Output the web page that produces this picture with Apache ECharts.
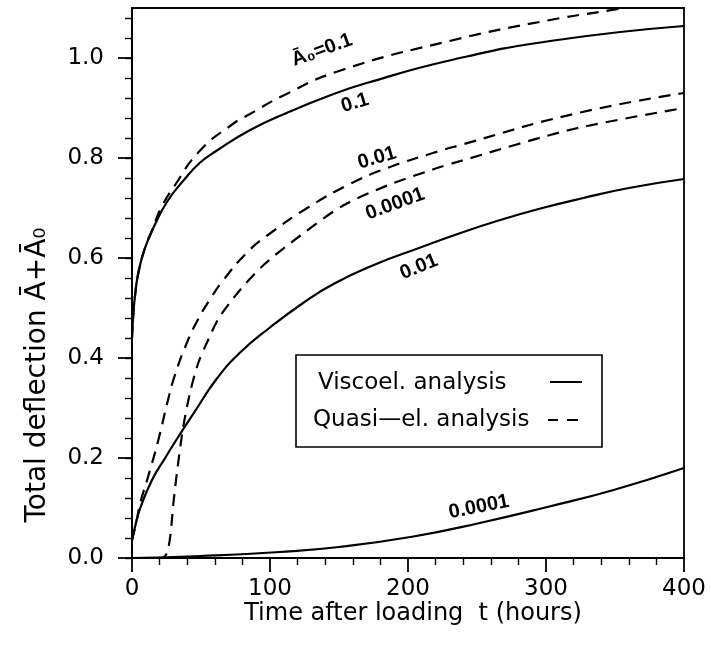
<!DOCTYPE html>
<html><head><meta charset="utf-8">
<script src="https://cdn.jsdelivr.net/npm/echarts@6/dist/echarts.min.js"></script>
<style>html,body{margin:0;padding:0;background:#fff}#c{width:711px;height:652px}</style>
</head><body><div id="c"></div>
<script>
// ---- data (t in hours, total deflection) ----
const xTicks = [0, 100, 200, 300, 400];
const yTicks = ["0.0", "0.2", "0.4", "0.6", "0.8", "1.0"];

// Viscoelastic analysis (solid)
const tVisc01 = [0, 1, 2, 4.5, 9.4, 17, 26, 37, 49, 61, 85, 112, 146, 170, 230, 303, 400];
const yVisc01 = [0.44, 0.49, 0.52, 0.569, 0.62, 0.669, 0.715, 0.754, 0.79, 0.814, 0.855, 0.89, 0.928, 0.95, 0.995, 1.034, 1.064];

const tVisc001 = [0, 2, 6, 14.5, 24, 33, 46, 61, 78, 100, 124, 146, 177, 206, 238, 267, 296, 327, 360, 400];
const yVisc001 = [0.035, 0.06, 0.10, 0.156, 0.20, 0.24, 0.295, 0.357, 0.41, 0.461, 0.51, 0.548, 0.588, 0.618, 0.65, 0.676, 0.699, 0.72, 0.74, 0.758];

const tVisc00001 = [0, 50, 107, 150, 204, 252, 301, 349, 400];
const yVisc00001 = [0, 0.004, 0.012, 0.022, 0.043, 0.07, 0.102, 0.136, 0.18];

// Quasi-elastic analysis (dashed)
const tQuasi01 = [0, 1, 2, 4.5, 9.4, 15, 21, 31, 49, 73, 85.5, 109, 150, 230, 303, 356, 400];
const yQuasi01 = [0.44, 0.49, 0.52, 0.569, 0.62, 0.658, 0.70, 0.745, 0.814, 0.868, 0.888, 0.924, 0.974, 1.034, 1.076, 1.10, 1.125];

const tQuasi001 = [0, 3, 6, 11.6, 19, 26, 31, 40, 48, 56, 66, 83, 98, 127, 158, 185, 218, 238, 320, 400];
const yQuasi001 = [0.035, 0.07, 0.11, 0.162, 0.235, 0.315, 0.365, 0.432, 0.478, 0.515, 0.555, 0.61, 0.645, 0.70, 0.748, 0.78, 0.81, 0.826, 0.888, 0.93];

const tQuasi00001 = [18, 22, 24, 26, 28, 30, 33, 37, 42, 48, 55, 63, 78, 95, 122, 153, 185, 218, 238, 320, 400];
const yQuasi00001 = [0, 0, 0.004, 0.015, 0.05, 0.11, 0.18, 0.26, 0.33, 0.39, 0.435, 0.48, 0.535, 0.585, 0.645, 0.705, 0.745, 0.777, 0.794, 0.858, 0.90];

// curve annotations: [text, t, y, rotation deg]
const curveLabels = [
  ["A\u0304\u2080=0.1", 137.7, 1.016, 20],
  ["0.1", 161.6, 0.91, 17],
  ["0.01", 177.5, 0.80, 16],
  ["0.0001", 190.6, 0.708, 20],
  ["0.01", 208, 0.582, 22],
  ["0.0001", 251.4, 0.102, 11]
];
const legendItems = ["Viscoel. analysis", "Quasi\u2014el. analysis"];
const xTitle = "Time after loading  t (hours)";
const yTitle = "Total deflection A\u0304+A\u0304\u2080";

// ---- chart ----
const FONT = "DejaVu Sans";
const pairs = (t, y) => t.map((v, i) => [v, y[i]]);
const chart = echarts.init(document.getElementById('c'), null, {renderer: 'canvas'});
const blk = {color: '#000', width: 1.8};
function line(t, y, dashed, sm) {
  return {
    type: 'line', xAxisIndex: 0, yAxisIndex: 0, data: pairs(t, y),
    symbol: 'none', smooth: sm, clip: true, silent: true,
    lineStyle: {color: '#000', width: 2.2, type: dashed ? [12, 8] : 'solid'}
  };
}
const gridBase = {left: 132, right: 27, bottom: 94, outerBoundsMode: 'none', containLabel: false};
chart.setOption({
  animation: false,
  backgroundColor: '#fff',
  grid: [
    Object.assign({top: 8, show: true, borderColor: '#000', borderWidth: 1.8, backgroundColor: 'transparent'}, gridBase),
    Object.assign({top: 58}, gridBase),
    Object.assign({top: 18}, gridBase)
  ],
  xAxis: [
    {gridIndex: 0, type: 'value', min: 0, max: 400, interval: 100,
     axisLine: {show: true, onZero: false, lineStyle: blk},
     axisTick: {show: true, inside: false, length: 14, lineStyle: blk},
     minorTick: {show: true, splitNumber: 5, length: 7, lineStyle: {color: '#000', width: 1.4}},
     axisLabel: {color: '#000', fontSize: 23, fontFamily: FONT, margin: 20,
                 formatter: v => xTicks.includes(v) ? String(v) : ''},
     splitLine: {show: false}, minorSplitLine: {show: false}},
    {gridIndex: 1, type: 'value', min: 0, max: 400, show: false},
    {gridIndex: 2, type: 'value', min: 0, max: 400, show: false}
  ],
  yAxis: [
    {gridIndex: 0, type: 'value', min: 0, max: 1.1,
     axisLine: {show: true, onZero: false, lineStyle: blk},
     axisTick: {show: false}, axisLabel: {show: false}, splitLine: {show: false}},
    {gridIndex: 1, type: 'value', min: 0, max: 1.0, interval: 0.2,
     axisLine: {show: false}, axisTick: {show: true, length: 14, lineStyle: blk},
     axisLabel: {color: '#000', fontSize: 23, fontFamily: FONT, margin: 28,
                 formatter: v => yTicks[Math.round(v / 0.2)] || ''},
     splitLine: {show: false}},
    {gridIndex: 2, type: 'value', min: 0, max: 1.08, interval: 0.04,
     axisLine: {show: false}, axisTick: {show: true, length: 7, lineStyle: {color: '#000', width: 1.4}},
     axisLabel: {show: false}, splitLine: {show: false}}
  ],
  series: [
    line(tVisc01, yVisc01, false, 0.5),
    line(tVisc001, yVisc001, false, 0.5),
    line(tVisc00001, yVisc00001, false, 0.5),
    line(tQuasi01, yQuasi01, true, 0.5),
    line(tQuasi001, yQuasi001, true, 0.5),
    line(tQuasi00001, yQuasi00001, true, 0.3)
  ]
});

const g = [];
curveLabels.forEach(([txt, t, y, rot]) => {
  const p = chart.convertToPixel({gridIndex: 0}, [t, y]);
  g.push({type: 'text', x: p[0], y: p[1], rotation: rot * Math.PI / 180, z: 10,
    style: {text: txt, fill: '#000', font: 'bold 20px "Liberation Sans Narrow", "Liberation Sans", sans-serif',
            align: 'center', verticalAlign: 'middle'}});
});
// legend box
g.push({type: 'rect', shape: {x: 296, y: 355, width: 306, height: 92}, z: 20,
  style: {fill: '#fff', stroke: '#000', lineWidth: 1.6}});
g.push({type: 'text', x: 318, y: 383, z: 21, style: {text: legendItems[0], fill: '#000', font: '23px "' + FONT + '"', verticalAlign: 'middle'}});
g.push({type: 'text', x: 313, y: 420, z: 21, style: {text: legendItems[1], fill: '#000', font: '23px "' + FONT + '"', verticalAlign: 'middle'}});
g.push({type: 'line', z: 21, shape: {x1: 550, y1: 382, x2: 582, y2: 382}, style: {stroke: '#000', lineWidth: 2}});
g.push({type: 'line', z: 21, shape: {x1: 548, y1: 420, x2: 558, y2: 420}, style: {stroke: '#000', lineWidth: 2}});
g.push({type: 'line', z: 21, shape: {x1: 567, y1: 420, x2: 578, y2: 420}, style: {stroke: '#000', lineWidth: 2}});
// axis titles
g.push({type: 'text', x: 413, y: 614, z: 10, style: {text: xTitle, fill: '#000', font: '24px "' + FONT + '"', align: 'center', verticalAlign: 'middle'}});
g.push({type: 'text', x: 38, y: 375, rotation: Math.PI / 2, z: 10, style: {text: yTitle, fill: '#000', font: '28px "' + FONT + '"', align: 'center', verticalAlign: 'middle'}});
chart.setOption({graphic: g});
</script>
</body></html>
